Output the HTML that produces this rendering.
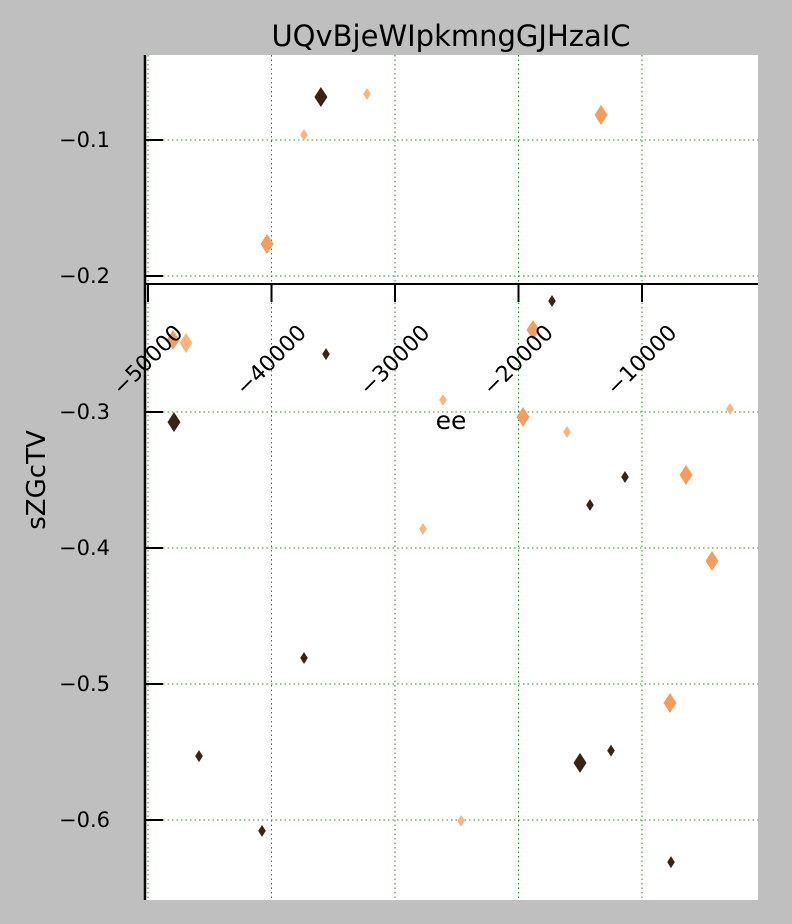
<!DOCTYPE html>
<html><head><meta charset="utf-8"><style>body{margin:0;background:#bfbfbf}svg{display:block}text{font-family:"DejaVu Sans","Liberation Sans",sans-serif}</style></head>
<body>
<svg id="chart" width="792" height="924" xmlns="http://www.w3.org/2000/svg">
<rect x="0" y="0" width="792" height="924" fill="#bfbfbf"/>
<rect x="145" y="55" width="613" height="845" fill="#ffffff"/>
<g id="grid"></g>
<g id="marks"></g>
<g id="axes"></g>
<text x="451" y="46" font-size="29" text-anchor="middle">UQvBjeWIpkmngGJHzaIC</text>
<text x="451" y="429" font-size="25" text-anchor="middle">ee</text>
<text x="45" y="480" font-size="26" text-anchor="middle" transform="rotate(-90 45 480)">sZGcTV</text>
</svg>
<script>
const xValues=[-36000,-32267,-37368,-40364,-13320,-17287,-47976,-46923,-35587,-18826,-47895,-26113,-19636,-16073,-2874,-11377,-14211,-6437,-27733,-4332,-37368,-7733,-45870,-15020,-12510,-40769,-24656,-7652];
const yValues=[-0.0684,-0.0662,-0.0963,-0.1765,-0.0816,-0.2184,-0.2471,-0.2493,-0.2574,-0.2397,-0.3074,-0.2912,-0.3037,-0.3147,-0.2978,-0.3478,-0.3684,-0.3463,-0.386,-0.4096,-0.4809,-0.514,-0.553,-0.558,-0.549,-0.608,-0.6007,-0.631];
const groups=[0,2,2,1,1,0,1,2,0,1,0,2,1,2,2,0,0,1,2,1,0,1,0,0,0,0,2,0];
const sizes=[1,0,0,1,1,0,1,1,0,1,1,0,1,0,0,0,0,1,0,1,0,1,0,1,0,0,0,0];
const xTicks=[-50000,-40000,-30000,-20000,-10000];
const xTickLabels=["\u221250000","\u221240000","\u221230000","\u221220000","\u221210000"];
const yTicks=[-0.1,-0.2,-0.3,-0.4,-0.5,-0.6];
const yTickLabels=["\u22120.1","\u22120.2","\u22120.3","\u22120.4","\u22120.5","\u22120.6"];
const colors=["#3a2214","#f89c5c","#ffb47a"];
const NS="http://www.w3.org/2000/svg";
const X=v=>148+(v+50000)/10000*123.5;
const Y=v=>140-(v+0.1)*1360;
const L=145,R=758,T=55,B=900,axisY=284;
function mk(t,a,p){const e=document.createElementNS(NS,t);for(const k in a)e.setAttribute(k,a[k]);p.appendChild(e);return e;}
const grid=document.getElementById('grid'),marks=document.getElementById('marks'),axes=document.getElementById('axes');
xTicks.forEach((t,i)=>{
  const g=mk('line',{x1:X(t),x2:X(t),y1:T,y2:B,stroke:'#1a9a1a','stroke-width':1,'stroke-dasharray':'1.5,3'},grid);
  
  
  const tk=mk('line',{x1:X(t),x2:X(t),y1:axisY,y2:axisY+18,stroke:'#000','stroke-width':2},axes);
  
  
  const ax=X(t)+36,ay=axisY+50;
  const tx=mk('text',{x:ax,y:ay,'font-size':22,'text-anchor':'end',transform:`rotate(-45 ${ax} ${ay})`},axes);
  
  
  tx.textContent=xTickLabels[i];
});
yTicks.forEach((t,i)=>{
  const g=mk('line',{x1:L,x2:R,y1:Y(t),y2:Y(t),stroke:'#1a9a1a','stroke-width':1,'stroke-dasharray':'1.5,3'},grid);
  
  
  const tk=mk('line',{x1:L,x2:L+18,y1:Y(t),y2:Y(t),stroke:'#000','stroke-width':2},axes);
  
  
  const tx=mk('text',{x:110,y:Y(t)+7,'font-size':21,'text-anchor':'end'},axes);
  
  
  tx.textContent=yTickLabels[i];
});
xValues.forEach((v,i)=>{
  const cx=X(v),cy=Y(yValues[i]);const w=sizes[i]?6.5:3.8,h=sizes[i]?10:6;
  const p=mk('polygon',{points:`${cx},${cy-h} ${cx+w},${cy} ${cx},${cy+h} ${cx-w},${cy}`,fill:colors[groups[i]]},marks);
  
  
});
const sp=mk('line',{x1:L,x2:L,y1:T,y2:B,stroke:'#000','stroke-width':2.5},axes);


const sx=mk('line',{x1:L,x2:R,y1:axisY,y2:axisY,stroke:'#000','stroke-width':2},axes);


</script>
</body></html>
